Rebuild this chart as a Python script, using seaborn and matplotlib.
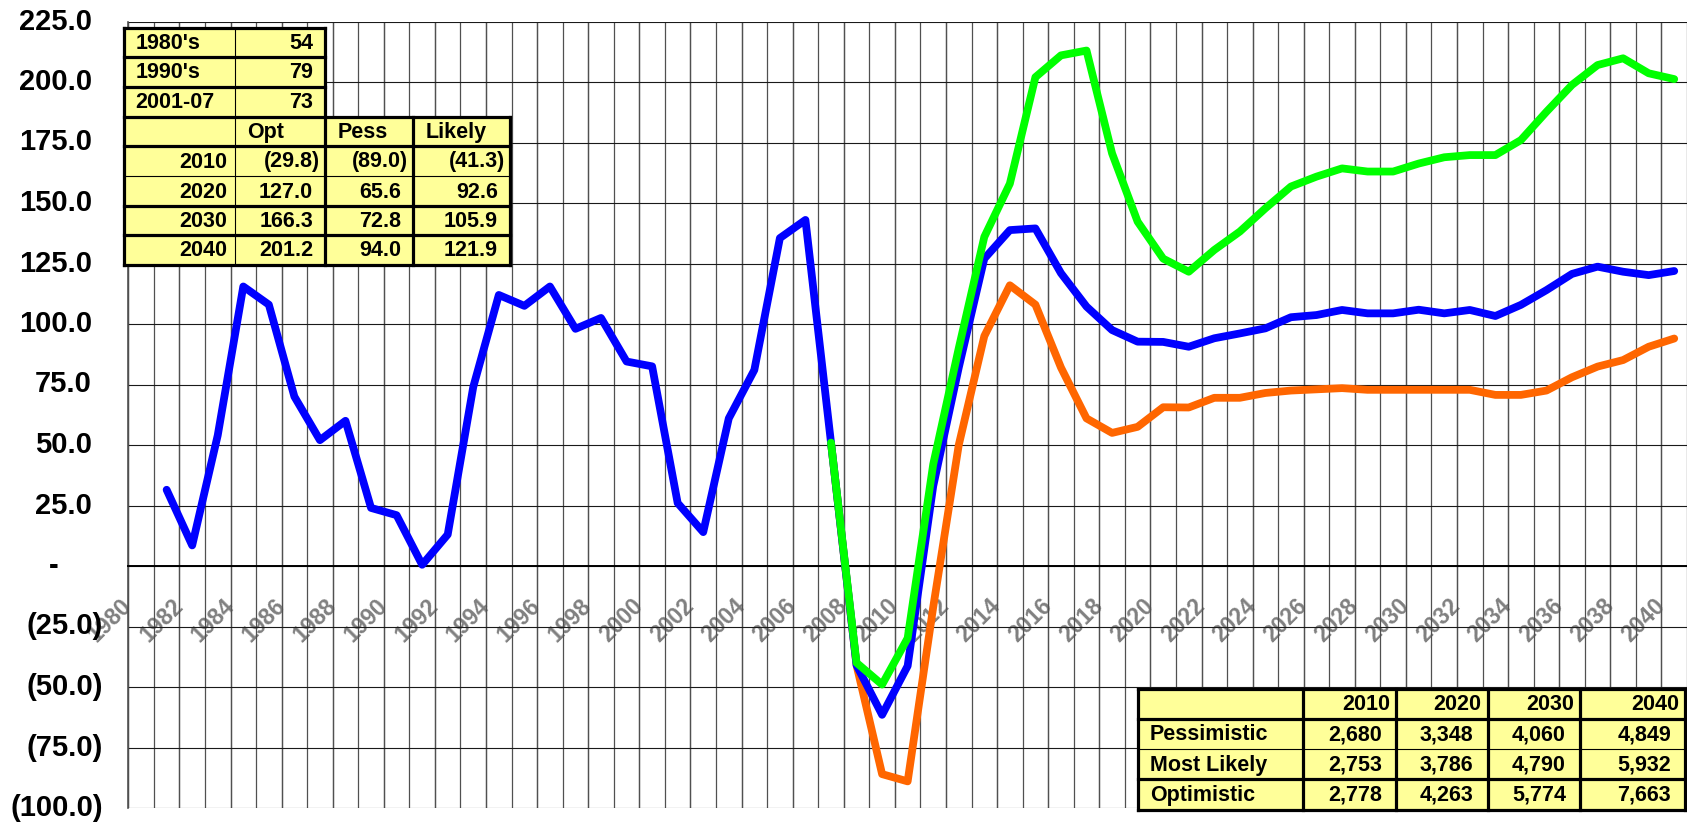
import numpy as np
import pandas as pd
import matplotlib
matplotlib.use("Agg")
import matplotlib.pyplot as plt
import matplotlib.transforms as mtransforms
from matplotlib.lines import Line2D
from matplotlib.patches import Rectangle
import seaborn as sns

# ---------------- data ----------------
hist_years = list(range(1981, 2041))
likely_vals = [31.5, 8.5, 54, 115.5, 108, 70, 52, 60, 24, 21,
               0.5, 13, 74, 112, 107.5, 115.5, 98, 102.5, 84.5, 82.5,
               26, 14, 61, 81, 135.5, 143, 51, -41, -61.5, -41.3,
               33, 82, 127, 138.8, 139.5, 121, 107.2, 97.5, 92.7, 92.6,
               90.6, 94.1, 96.1, 98.2, 102.8, 103.7, 105.8, 104.4, 104.4, 105.9,
               104.4, 105.8, 103.3, 107.9, 114, 120.7, 123.7, 121.6, 120.2, 121.9]

proj_years = list(range(2007, 2041))
optimistic_vals = [51, -40, -49, -29.8, 42, 90, 136, 158, 202, 211,
                   213, 170.5, 142.3, 127.0, 121.6, 130.6, 138.2, 147.8, 156.8, 160.9,
                   164.3, 163, 163, 166.3, 168.9, 169.8, 169.8, 176, 187.7, 198.8,
                   207, 209.8, 203.6, 201.2]
pessimistic_vals = [51, -41, -86, -89.0, -17, 50, 95, 116, 108, 82,
                    61, 55, 57.5, 65.6, 65.5, 69.5, 69.5, 71.5, 72.5, 73,
                    73.5, 72.8, 72.8, 72.8, 72.8, 72.8, 70.7, 70.7, 72.5, 78,
                    82.4, 85.1, 90.6, 94.0]

y_ticks = list(range(-100, 226, 25))
label_years = list(range(1980, 2041, 2))

# top-left table
decade_labels = ["1980's", "1990's", "2001-07"]
decade_values = ["54", "79", "73"]
scen_headers = ["Opt", "Pess", "Likely"]
tbl_years = ["2010", "2020", "2030", "2040"]
tbl_opt = [-29.8, 127.0, 166.3, 201.2]
tbl_pess = [-89.0, 65.6, 72.8, 94.0]
tbl_likely = [-41.3, 92.6, 105.9, 121.9]

# bottom-right table
br_years = ["2010", "2020", "2030", "2040"]
br_rows = ["Pessimistic", "Most Likely", "Optimistic"]
br_pess = [2680, 3348, 4060, 4849]
br_likely = [2753, 3786, 4790, 5932]
br_opt = [2778, 4263, 5774, 7663]

# ---------------- style ----------------
sns.set_style("white")
plt.rcParams['font.family'] = ['Liberation Sans', 'DejaVu Sans']
plt.rcParams['font.weight'] = 'bold'

W, H = 1687, 825
fig = plt.figure(figsize=(W / 100, H / 100), dpi=100)

ax_left_px, ax_right_px = 128.3, 1687
ax_top_px, ax_bot_px = 21.5, 808
px_per_year = 25.59
ax = fig.add_axes([ax_left_px / W, 1 - ax_bot_px / H,
                   (ax_right_px - ax_left_px) / W, (ax_bot_px - ax_top_px) / H])

df_likely = pd.DataFrame({"year": hist_years, "value": likely_vals})
df_opt = pd.DataFrame({"year": proj_years, "value": optimistic_vals})
df_pess = pd.DataFrame({"year": proj_years, "value": pessimistic_vals})

lw = 5.6
common = dict(estimator=None, sort=False, linewidth=lw, ax=ax)
sns.lineplot(data=df_pess, x="year", y="value", color="#FF6600", **common)
sns.lineplot(data=df_likely, x="year", y="value", color="#0000FF", **common)
sns.lineplot(data=df_opt, x="year", y="value", color="#00FF00", **common)
for ln in ax.lines:
    ln.set_solid_joinstyle('round')
    ln.set_solid_capstyle('round')
    ln.set_zorder(3)

x0 = 1979.5
ax.set_xlim(x0, x0 + (ax_right_px - ax_left_px) / px_per_year)
ax.set_ylim(-100, 225)
ax.set_xlabel("")
ax.set_ylabel("")
ax.set_axisbelow(True)

# spines first (set_position resets ticks)
ax.spines['bottom'].set_position(('data', 0))
ax.spines['bottom'].set_color('black')
ax.spines['bottom'].set_linewidth(1.4)
ax.spines['left'].set_color('#505050')
ax.spines['left'].set_linewidth(1.2)
ax.spines['top'].set_visible(False)
ax.spines['right'].set_visible(False)

# x axis: ticks at category boundaries
bounds = [y - 0.5 for y in range(1980, 2042)]
ax.set_xticks(bounds, minor=True)
ax.set_xticks([y - 0.5 for y in label_years], labels=[str(y) for y in label_years])
ax.xaxis.remove_overlapping_locs = False
ax.tick_params(axis='x', which='both', direction='out', length=5.8, width=1.4,
               color='black', pad=20.5, labelsize=16.5, labelcolor='#808080',
               labelrotation=45)
for lbl in ax.get_xticklabels():
    lbl.set_ha('right')
    lbl.set_va('center')
    lbl.set_rotation_mode('anchor')
    lbl.set_fontweight('bold')

ax.grid(which='both', axis='x', color='#505050', linewidth=0.9)
ax.set_yticks(y_ticks)
ax.tick_params(axis='y', direction='out', length=5.8, width=0.8, color='black',
               labelleft=False)
ax.grid(which='major', axis='y', color='#1a1a1a', linewidth=0.8)

# y tick labels (Excel accounting style)
ytrans = mtransforms.blended_transform_factory(fig.transFigure, ax.transData)
for v in y_ticks:
    if v > 0:
        s, xr = f"{v:.1f}", 92
    elif v < 0:
        s, xr = f"({-v:.1f})", 103
    else:
        s, xr = "-", 58
    ax.text(xr / W, v, s, transform=ytrans, ha='right', va='center',
            fontsize=21, fontweight='bold', color='black', clip_on=False)

# ---------------- tables ----------------
def fx(px):
    return px / W


def fy(py):
    return 1 - py / H


YELLOW = '#FFFF99'
THICK, THIN = 2.3, 0.8


def rect(xa, ya, xb, yb):
    fig.add_artist(Rectangle((fx(xa), fy(yb)), (xb - xa) / W, (yb - ya) / H,
                             transform=fig.transFigure, facecolor=YELLOW,
                             edgecolor='none', zorder=5))


def hline(y, xa, xb, w):
    fig.add_artist(Line2D([fx(xa), fx(xb)], [fy(y), fy(y)], transform=fig.transFigure,
                          color='black', linewidth=w, zorder=6,
                          solid_capstyle='projecting'))


def vline(x, ya, yb, w):
    fig.add_artist(Line2D([fx(x), fx(x)], [fy(ya), fy(yb)], transform=fig.transFigure,
                          color='black', linewidth=w, zorder=6,
                          solid_capstyle='projecting'))


def txt(x, y, s, ha):
    fig.text(fx(x), fy(y + 1), s, ha=ha, va='center', fontsize=15.5,
             fontweight='bold', color='black', zorder=7)


def fmt1(v):
    return f"({-v:.1f})" if v < 0 else f"{v:.1f}"


# top-left table geometry (pixels)
cx = [123.5, 234.5, 325, 413, 510]
ry = [28, 57, 87, 117, 146, 176, 206, 235, 265]
rect(cx[0], ry[0], cx[2], ry[3])
rect(cx[0], ry[3], cx[4], ry[8])
for i, (lab, val) in enumerate(zip(decade_labels, decade_values)):
    yc = (ry[i] + ry[i + 1]) / 2
    txt(cx[0] + 12, yc, lab, 'left')
    txt(cx[2] - 12, yc, val, 'right')
yc = (ry[3] + ry[4]) / 2
for j, hd in enumerate(scen_headers):
    txt(cx[1 + j] + 12.5, yc, hd, 'left')
for i, yr in enumerate(tbl_years):
    yc = (ry[4 + i] + ry[5 + i]) / 2
    txt(cx[1] - 7, yc, yr, 'right')
    for j, col in enumerate([tbl_opt, tbl_pess, tbl_likely]):
        v = col[i]
        pad = 5 if v < 0 else 12
        txt(cx[2 + j] - pad, yc, fmt1(v), 'right')
for k in [0, 1, 2]:
    hline(ry[k], cx[0], cx[2], THICK)
hline(ry[3], cx[0], cx[4], THICK)
hline(ry[4], cx[0], cx[4], THICK)
hline(ry[5], cx[0], cx[4], THIN)
for k in [6, 7, 8]:
    hline(ry[k], cx[0], cx[4], THICK)
vline(cx[0], ry[0], ry[8], THICK)
vline(cx[1], ry[0], ry[8], THIN)
vline(cx[2], ry[0], ry[8], THICK)
vline(cx[3], ry[3], ry[8], THICK)
vline(cx[4], ry[3], ry[8], THICK)

# bottom-right table geometry (pixels)
bx = [1137.5, 1302.5, 1396, 1487.5, 1580, 1685]
by = [688.5, 719, 749, 779, 810]
rect(bx[0], by[0], bx[5], by[4])
for j, yr in enumerate(br_years):
    txt(bx[j + 2] - 6, (by[0] + by[1]) / 2, yr, 'right')
for i, (lab, vals) in enumerate(zip(br_rows, [br_pess, br_likely, br_opt])):
    yc = (by[i + 1] + by[i + 2]) / 2
    txt(bx[0] + 12.5, yc, lab, 'left')
    for j, v in enumerate(vals):
        txt(bx[j + 2] - 14, yc, f"{v:,}", 'right')
hline(by[0], bx[0], bx[5], THICK)
hline(by[1], bx[0], bx[5], THICK)
hline(by[2], bx[0], bx[5], THIN)
hline(by[3], bx[0], bx[5], THICK)
hline(by[4], bx[0], bx[5], THICK)
for x in bx:
    vline(x, by[0], by[4], THICK)

fig.savefig("out.png", dpi=100)
